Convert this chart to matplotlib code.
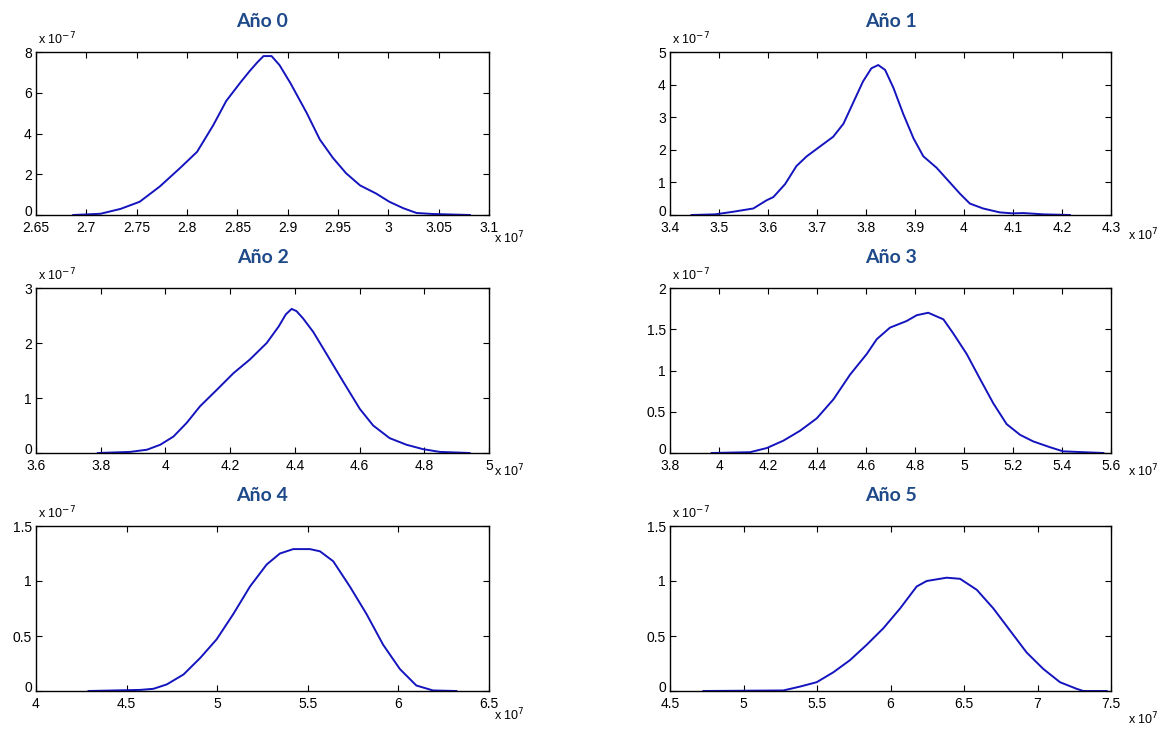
import numpy as np
import matplotlib
matplotlib.use("Agg")
import matplotlib.pyplot as plt
import matplotlib.transforms as mtransforms

# densidades estimadas, x en unidades de 1e7 y densidad en unidades de 1e-7
titulos = ["Año 0", "Año 1", "Año 2", "Año 3", "Año 4", "Año 5"]

x_ano0 = [2.687, 2.714, 2.734, 2.753, 2.773, 2.793, 2.810, 2.826, 2.839, 2.853, 2.862, 2.870,
          2.876, 2.884, 2.892, 2.903, 2.919, 2.932, 2.945, 2.958, 2.972, 2.988, 3.001, 3.015,
          3.028, 3.044, 3.081]
y_ano0 = [0.0, 0.06, 0.3, 0.65, 1.4, 2.3, 3.1, 4.4, 5.6, 6.5, 7.05, 7.5,
          7.8, 7.8, 7.35, 6.45, 5.0, 3.7, 2.8, 2.05, 1.45, 1.05, 0.65, 0.33,
          0.1, 0.05, 0.0]

x_ano1 = [3.444, 3.492, 3.529, 3.570, 3.597, 3.611, 3.635, 3.658, 3.679, 3.706, 3.733, 3.754,
          3.774, 3.794, 3.811, 3.825, 3.839, 3.856, 3.876, 3.897, 3.917, 3.944, 3.971, 3.992,
          4.012, 4.039, 4.073, 4.100, 4.121, 4.162, 4.216]
y_ano1 = [0.0, 0.02, 0.1, 0.2, 0.45, 0.55, 0.95, 1.5, 1.8, 2.1, 2.4, 2.8,
          3.45, 4.1, 4.5, 4.6, 4.45, 3.9, 3.1, 2.35, 1.8, 1.45, 1.0, 0.65,
          0.35, 0.2, 0.08, 0.05, 0.06, 0.02, 0.0]

x_ano2 = [3.791, 3.891, 3.943, 3.984, 4.025, 4.066, 4.107, 4.159, 4.210, 4.261, 4.313, 4.350,
          4.372, 4.390, 4.405, 4.425, 4.457, 4.498, 4.549, 4.601, 4.642, 4.693, 4.745, 4.796,
          4.848, 4.940]
y_ano2 = [0.0, 0.02, 0.06, 0.15, 0.3, 0.55, 0.85, 1.15, 1.45, 1.7, 2.0, 2.3,
          2.52, 2.62, 2.58, 2.45, 2.2, 1.8, 1.3, 0.8, 0.5, 0.27, 0.15, 0.07,
          0.02, 0.0]

x_ano3 = [3.970, 4.127, 4.195, 4.263, 4.331, 4.399, 4.467, 4.535, 4.603, 4.644, 4.698, 4.766,
          4.807, 4.854, 4.916, 4.956, 5.011, 5.065, 5.120, 5.174, 5.229, 5.283, 5.351, 5.405,
          5.569]
y_ano3 = [0.0, 0.01, 0.06, 0.15, 0.27, 0.42, 0.65, 0.95, 1.2, 1.38, 1.52, 1.6,
          1.67, 1.7, 1.62, 1.45, 1.2, 0.9, 0.6, 0.35, 0.22, 0.14, 0.07, 0.02,
          0.0]

x_ano4 = [4.290, 4.575, 4.648, 4.722, 4.814, 4.906, 4.997, 5.089, 5.181, 5.273, 5.346, 5.420,
          5.512, 5.567, 5.640, 5.732, 5.824, 5.916, 6.008, 6.099, 6.191, 6.320]
y_ano4 = [0.0, 0.01, 0.02, 0.06, 0.15, 0.3, 0.47, 0.7, 0.95, 1.15, 1.25, 1.29,
          1.29, 1.27, 1.18, 0.95, 0.7, 0.42, 0.2, 0.05, 0.005, 0.0]

x_ano5 = [4.727, 5.271, 5.384, 5.498, 5.611, 5.724, 5.838, 5.951, 6.065, 6.178, 6.246, 6.382,
          6.473, 6.587, 6.700, 6.813, 6.926, 7.040, 7.153, 7.266, 7.312, 7.471]
y_ano5 = [0.0, 0.005, 0.04, 0.08, 0.17, 0.28, 0.42, 0.57, 0.75, 0.95, 1.0, 1.03,
          1.02, 0.92, 0.75, 0.55, 0.35, 0.2, 0.08, 0.02, 0.0, 0.0]

xs = [x_ano0, x_ano1, x_ano2, x_ano3, x_ano4, x_ano5]
ys = [y_ano0, y_ano1, y_ano2, y_ano3, y_ano4, y_ano5]

# ticks de cada panel
xticks = [
    ["2.65", "2.7", "2.75", "2.8", "2.85", "2.9", "2.95", "3", "3.05", "3.1"],
    ["3.4", "3.5", "3.6", "3.7", "3.8", "3.9", "4", "4.1", "4.2", "4.3"],
    ["3.6", "3.8", "4", "4.2", "4.4", "4.6", "4.8", "5"],
    ["3.8", "4", "4.2", "4.4", "4.6", "4.8", "5", "5.2", "5.4", "5.6"],
    ["4", "4.5", "5", "5.5", "6", "6.5"],
    ["4.5", "5", "5.5", "6", "6.5", "7", "7.5"],
]
yticks = [
    ["0", "2", "4", "6", "8"],
    ["0", "1", "2", "3", "4", "5"],
    ["0", "1", "2", "3"],
    ["0", "0.5", "1", "1.5", "2"],
    ["0", "0.5", "1", "1.5"],
    ["0", "0.5", "1", "1.5"],
]

W, H = 1175, 739
fig = plt.figure(figsize=(W / 100, H / 100), dpi=100)
plt.rcParams['font.family'] = ['Liberation Sans', 'DejaVu Sans']

# posiciones en pixeles (izq, der, arriba, abajo)
cols = [(36, 489), (670, 1111)]
rows = [(52, 215), (288, 453), (526, 691)]
x7_off = [5, 17]
x7_y = [[238, 235], [471, 471], [715, 719]]

color_linea = '#1414be'
color_titulo = '#1f4a8a'

for i in range(6):
    r, c = divmod(i, 2)
    x0, x1 = cols[c]
    t, b = rows[r]
    ax = fig.add_axes([x0 / W, 1 - b / H, (x1 - x0) / W, (b - t) / H])
    ax.plot(xs[i], ys[i], color=color_linea, lw=1.4)

    xt = [float(v) for v in xticks[i]]
    yt = [float(v) for v in yticks[i]]
    ax.set_xlim(xt[0], xt[-1])
    ax.set_ylim(yt[0], yt[-1])
    ax.set_xticks(xt)
    ax.set_xticklabels(xticks[i])
    ax.set_yticks(yt)
    ax.set_yticklabels(yticks[i])
    ax.tick_params(direction='in', length=4, width=0.8, top=True, right=True,
                   labelsize=10)
    ax.tick_params(axis='x', pad=4)
    ax.tick_params(axis='y', pad=3)
    # el "0" del eje y sube un poco, como en MATLAB
    lab0 = ax.get_yticklabels()[0]
    lab0.set_transform(lab0.get_transform() +
                       mtransforms.ScaledTranslation(0, 3 / 72, fig.dpi_scale_trans))
    for s in ax.spines.values():
        s.set_linewidth(1.0)

    ax.set_title(titulos[i], fontsize=14, fontweight='bold', color=color_titulo,
                 family=['Lato', 'DejaVu Sans'], pad=18)

    # factores de escala estilo MATLAB
    fig.text((x0 + 2) / W, 1 - (t - 5) / H, r'x 10$^{-7}$', fontsize=9,
             ha='left', va='bottom')
    fig.text((x1 + x7_off[c]) / W, 1 - x7_y[r][c] / H, r'x 10$^{7}$', fontsize=9,
             ha='left', va='center')

fig.savefig('out.png', dpi=100, facecolor='white')
